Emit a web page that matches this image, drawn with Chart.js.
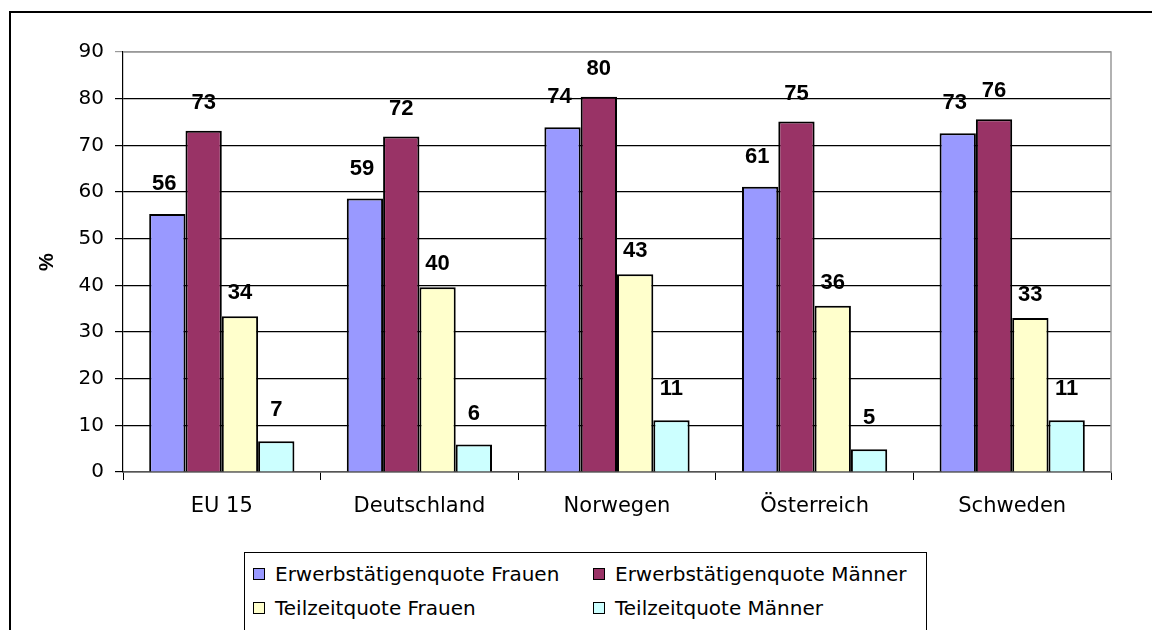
<!DOCTYPE html>
<html>
<head>
<meta charset="utf-8">
<script src="https://cdn.jsdelivr.net/npm/chart.js@4.4.0/dist/chart.umd.min.js"></script>
<style>
    body { margin: 0; background: #fff; overflow: hidden; }
    #wrap { position: relative; width: 1152px; height: 630px; }
    #frame { position: absolute; left: 9px; top: 11px; width: 1200px; height: 700px; border: 2px solid #000; box-sizing: border-box; }
    #canvas { position: absolute; left: 0; top: 0; }
    #legend { position: absolute; left: 244px; top: 552px; width: 681px; height: 100px; border: 1px solid #000; background: #fff;
        font-family: "DejaVu Sans", sans-serif; font-size: 20px; color: #000; }
    .item { position: absolute; white-space: nowrap; line-height: 24px; }
    .box { display: inline-block; width: 10px; height: 10px; border: 1.5px solid #000; margin-right: 10px; vertical-align: 1px; }
</style>
</head>
<body>
<div id="wrap">
    <div id="frame"></div>
    <canvas id="canvas" width="1152" height="630"></canvas>
    <div id="legend"></div>
</div>
<script>
const countries = ['EU 15', 'Deutschland', 'Norwegen', 'Österreich', 'Schweden'];
const seriesNames = ['Erwerbstätigenquote Frauen', 'Erwerbstätigenquote Männer', 'Teilzeitquote Frauen', 'Teilzeitquote Männer'];

const erwerbFrauen = [55.3, 58.6, 73.9, 61.1, 72.6];
const erwerbMaenner = [73.1, 71.9, 80.4, 75.1, 75.6];
const teilzeitFrauen = [33.4, 39.6, 42.4, 35.6, 33.0];
const teilzeitMaenner = [6.6, 5.9, 11.1, 4.9, 11.1];

// printed labels (rounded in the source)
const labelsFrauen = ['56', '59', '74', '61', '73'];
const labelsMaenner = ['73', '72', '80', '75', '76'];
const labelsTzFrauen = ['34', '40', '43', '36', '33'];
const labelsTzMaenner = ['7', '6', '11', '5', '11'];

const yTicks = [0, 10, 20, 30, 40, 50, 60, 70, 80, 90];

const colors = ['#9999FF', '#993366', '#FFFFCC', '#CCFFFF'];
const allValues = [erwerbFrauen, erwerbMaenner, teilzeitFrauen, teilzeitMaenner];
const allLabels = [labelsFrauen, labelsMaenner, labelsTzFrauen, labelsTzMaenner];
// label offset per series (dx, lift above bar top)
const labelShift = [[-3, 30], [0, 28], [0, 23], [0, 31]];

const font = '"DejaVu Sans", sans-serif';
const boldFont = '"Liberation Sans", Arial, sans-serif';

const valueLabels = {
    id: 'valueLabels',
    afterDatasetsDraw(chart) {
        const ctx = chart.ctx;
        ctx.save();
        ctx.font = 'bold 22px ' + boldFont;
        ctx.fillStyle = '#000';
        ctx.textAlign = 'center';
        ctx.textBaseline = 'middle';
        chart.data.datasets.forEach(function (ds, i) {
            chart.getDatasetMeta(i).data.forEach(function (bar, j) {
                ctx.fillText(allLabels[i][j], bar.x + labelShift[i][0], bar.y - labelShift[i][1]);
            });
        });
        ctx.restore();
    }
};

const frame = {
    id: 'frame',
    beforeDatasetsDraw(chart) {
        const a = chart.chartArea;
        const ctx = chart.ctx;
        ctx.save();
        ctx.strokeStyle = '#999';
        ctx.lineWidth = 1.5;
        ctx.beginPath();
        ctx.moveTo(a.left, a.top);
        ctx.lineTo(a.right, a.top);
        ctx.lineTo(a.right, a.bottom);
        ctx.stroke();
        ctx.restore();
    },
    afterDraw(chart) {
        const ctx = chart.ctx;
        ctx.save();
        ctx.translate(47, 262);
        ctx.rotate(-Math.PI / 2);
        ctx.font = 'bold 20px ' + boldFont;
        ctx.textAlign = 'center';
        ctx.textBaseline = 'middle';
        ctx.fillStyle = '#000';
        ctx.fillText('%', 0, 0);
        ctx.restore();
    }
};

const ctx = document.getElementById('canvas').getContext('2d');
const myChart = new Chart(ctx, {
    type: 'bar',
    data: {
        labels: countries,
        datasets: seriesNames.map(function (name, i) {
            return {
                label: name,
                data: allValues[i],
                backgroundColor: colors[i],
                borderColor: '#000',
                borderWidth: 2,
                borderSkipped: 'bottom',
                categoryPercentage: 0.735,
                barPercentage: 1.0
            };
        })
    },
    options: {
        responsive: false,
        animation: false,
        layout: { padding: { left: 0, top: 52, right: 41, bottom: 0 } },
        plugins: { legend: { display: false }, tooltip: { enabled: false } },
        scales: {
            x: {
                grid: { drawOnChartArea: false, color: '#000', tickLength: 8, offset: true },
                border: { color: '#555', width: 1.5 },
                ticks: { color: '#000', font: { family: font, size: 21 }, padding: 14 },
                afterFit(scale) { scale.height = 158; }
            },
            y: {
                min: 0,
                max: 90,
                afterBuildTicks(scale) { scale.ticks = yTicks.map(function (v) { return { value: v }; }); },
                grid: {
                    color: function (c) { return c.tick && c.tick.value === 90 ? '#999' : '#000'; },
                    lineWidth: 1.2,
                    tickLength: 8
                },
                border: { color: '#000', width: 1.2 },
                ticks: { color: '#000', font: { family: font, size: 20 }, padding: 11 },
                afterFit(scale) { scale.width = 123; }
            }
        }
    },
    plugins: [frame, valueLabels]
});

// legend in two columns
const legend = document.getElementById('legend');
const spots = [[8, 9], [348, 9], [8, 43], [348, 43]];
seriesNames.forEach(function (name, i) {
    const el = document.createElement('div');
    el.className = 'item';
    el.style.left = spots[i][0] + 'px';
    el.style.top = spots[i][1] + 'px';
    el.innerHTML = '<span class="box" style="background:' + colors[i] + '"></span>' + name;
    legend.appendChild(el);
});
</script>
</body>
</html>
